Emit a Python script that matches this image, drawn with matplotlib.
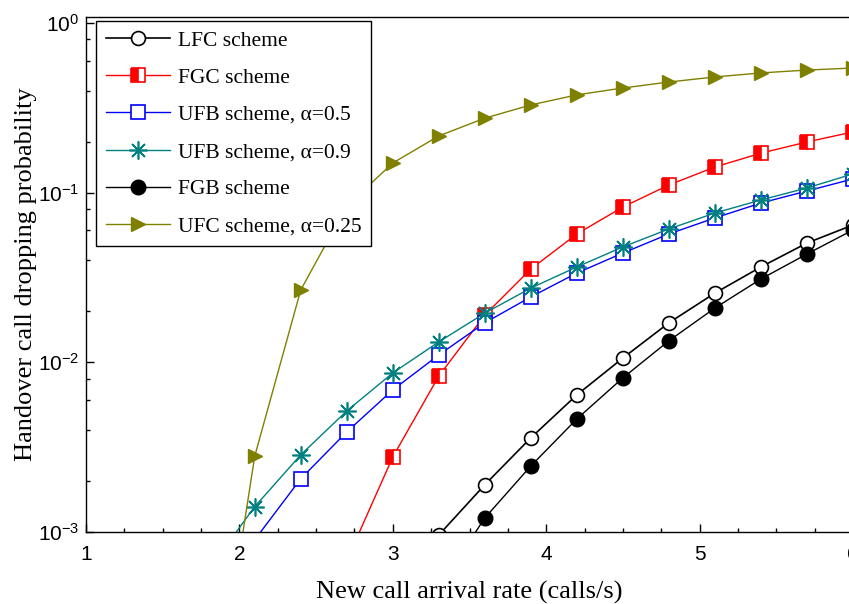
import numpy as np
import matplotlib
matplotlib.use('Agg')
import matplotlib.pyplot as plt
from matplotlib.ticker import LogLocator, MultipleLocator

plt.rcParams['font.family'] = 'Liberation Sans'
plt.rcParams['mathtext.default'] = 'regular'

# New call arrival rate (calls/s)
x_full = [1.8, 2.1, 2.4, 2.7, 3.0, 3.3, 3.6, 3.9, 4.2, 4.5, 4.8, 5.1, 5.4, 5.7, 6.0]

# handover call dropping probability
# (first values lie below 1e-3 so the lines start clipped at the axis)
lfc = [2e-5, 6e-5, 1.5e-4, 3.2e-4, 5.5e-4, 0.00096, 0.0019, 0.00359, 0.00643, 0.0106,
       0.0171, 0.0256, 0.0365, 0.0505, 0.0645]
fgc = [1e-5, 4e-5, 1.5e-4, 0.00068, 0.00277, 0.0083, 0.019, 0.0355, 0.0571, 0.0823,
       0.111, 0.1417, 0.171, 0.199, 0.228]
ufb05 = [3e-4, 0.0009, 0.00206, 0.00389, 0.00688, 0.01106, 0.0171, 0.0243, 0.0336, 0.0441,
         0.0571, 0.071, 0.0869, 0.1023, 0.1205]
ufb09 = [6e-4, 0.00141, 0.00285, 0.00517, 0.00866, 0.0132, 0.0195, 0.0274, 0.0365, 0.0479,
         0.0611, 0.0759, 0.0906, 0.1066, 0.129]
fgb = [1e-5, 3e-5, 8e-5, 1.8e-4, 3.5e-4, 0.00047, 0.00121, 0.00245, 0.00464, 0.0081,
       0.0134, 0.0209, 0.031, 0.0435, 0.0603]
ufc = [5e-5, 0.0028, 0.0267, 0.0835, 0.1496, 0.216, 0.275, 0.329, 0.377, 0.414,
       0.449, 0.481, 0.508, 0.528, 0.543]

serif = 'Liberation Serif'

fig = plt.figure(figsize=(8.49, 6.04), dpi=100)
ax = fig.add_axes([86/849, 72/604, 767/849, 515/604])

ax.plot(x_full, lfc, '-', color='black', lw=1.2, marker='o', ms=10,
        mfc='white', mec='black', mew=1.2, label='LFC scheme')
ax.plot(x_full, fgc, '-', color='red', lw=1.0, marker='s', ms=9.5,
        fillstyle='left', mfc='red', mfcalt='white', mec='red', mew=1.2,
        label='FGC scheme')
ax.plot(x_full, ufb05, '-', color='blue', lw=1.0, marker='s', ms=9.5,
        mfc='white', mec='blue', mew=1.2, label='UFB scheme, \u03b1=0.5')
ax.plot(x_full, ufb09, '-', color='#008080', lw=1.0, marker=(8, 2, 0), ms=13,
        mec='#008080', mew=1.2, label='UFB scheme, \u03b1=0.9')
ax.plot(x_full, fgb, '-', color='black', lw=1.0, marker='o', ms=10.5,
        mfc='black', mec='black', label='FGB scheme')
ax.plot(x_full, ufc, '-', color='#808000', lw=1.0, marker='>', ms=10.5,
        mfc='#808000', mec='#808000', label='UFC scheme, \u03b1=0.25')

ax.set_yscale('log')
ax.set_xlim(1, 6)
ax.set_ylim(1e-3, 1.085)
ax.xaxis.set_major_locator(MultipleLocator(1))
ax.xaxis.set_minor_locator(MultipleLocator(0.25))
ax.yaxis.set_major_locator(LogLocator(base=10))
ax.yaxis.set_minor_locator(LogLocator(base=10, subs=[2, 4, 6, 8]))
ax.tick_params(which='both', direction='in', labelsize=15, width=1)
ax.tick_params(axis='x', which='major', length=6, pad=9)
ax.tick_params(axis='y', which='major', length=6, pad=5)
ax.tick_params(which='minor', length=3)
for s in ax.spines.values():
    s.set_linewidth(1.0)

ax.set_xlabel('New call arrival rate (calls/s)', family=serif, fontsize=19)
ax.set_ylabel('Handover call dropping probability', family=serif, fontsize=19)
ax.xaxis.set_label_coords(0.5, -0.094)
ax.yaxis.set_label_coords(-0.064, 0.5)

leg = ax.legend(loc='upper left', bbox_to_anchor=(0.013, 0.992), borderaxespad=0,
                prop={'family': serif, 'size': 15.5}, frameon=True, fancybox=False,
                edgecolor='black', framealpha=1, handlelength=3.0, handletextpad=0.35,
                labelspacing=0.79, borderpad=0.45)
leg.get_frame().set_linewidth(1.0)

fig.savefig('out.png', dpi=100)
